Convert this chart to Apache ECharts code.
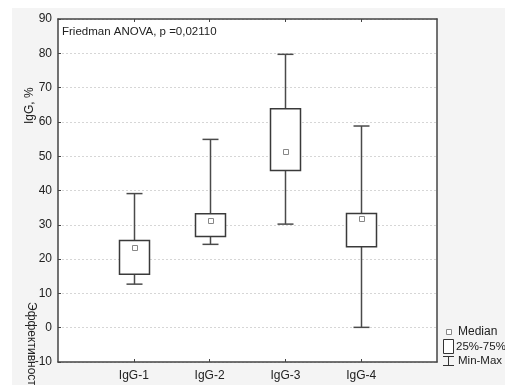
<!DOCTYPE html>
<html><head><meta charset="utf-8">
<script src="https://cdn.jsdelivr.net/npm/echarts@6/dist/echarts.min.js"></script>
<style>html,body{margin:0;padding:0;background:#fff}#c{width:505px;height:385px}</style>
</head><body><div id="c"></div>
<script>
var categories = ['IgG-1', 'IgG-2', 'IgG-3', 'IgG-4'];
var minVals = [12.7, 24.3, 30.2, 0.1];
var q1Vals = [15.6, 26.6, 45.8, 23.6];
var medianVals = [23.4, 31.2, 51.3, 31.9];
var q3Vals = [25.4, 33.2, 63.8, 33.3];
var maxVals = [39.1, 54.9, 79.7, 58.8];
var yTicks = [-10, 0, 10, 20, 30, 40, 50, 60, 70, 80, 90];

var axisCats = [''].concat(categories).concat(['']);
var boxData = categories.map(function (c, i) {
  return [i + 1, minVals[i], q1Vals[i], medianVals[i], q3Vals[i], maxVals[i]];
});
var font = 'Liberation Sans, Arial, sans-serif';

function renderBox(params, api) {
  var x = api.value(0);
  var pMin = api.coord([x, api.value(1)]);
  var pQ1 = api.coord([x, api.value(2)]);
  var pMed = api.coord([x, api.value(3)]);
  var pQ3 = api.coord([x, api.value(4)]);
  var pMax = api.coord([x, api.value(5)]);
  var cx = Math.round(pMin[0]) + 0.5;
  var bw = 30, cw = 16, ms = 5;
  var ls = {stroke: '#4a4a4a', lineWidth: 1.5, fill: null};
  return {
    type: 'group',
    children: [
      {type: 'line', shape: {x1: cx, y1: pMax[1], x2: cx, y2: pQ3[1]}, style: ls},
      {type: 'line', shape: {x1: cx, y1: pQ1[1], x2: cx, y2: pMin[1]}, style: ls},
      {type: 'line', shape: {x1: cx - cw / 2, y1: pMax[1], x2: cx + cw / 2, y2: pMax[1]}, style: ls},
      {type: 'line', shape: {x1: cx - cw / 2, y1: pMin[1], x2: cx + cw / 2, y2: pMin[1]}, style: ls},
      {type: 'rect', shape: {x: cx - bw / 2, y: pQ3[1], width: bw, height: pQ1[1] - pQ3[1]},
        style: {stroke: '#3a3a3a', lineWidth: 1.5, fill: '#fff'}},
      {type: 'rect', shape: {x: Math.round(cx - ms / 2) + 0.5, y: Math.round(pMed[1] - ms / 2) + 0.5, width: ms, height: ms},
        style: {stroke: '#888', lineWidth: 1, fill: '#fff'}}
    ]
  };
}

var chart = echarts.init(document.getElementById('c'), null, {renderer: 'canvas'});
chart.setOption({
  backgroundColor: 'transparent',
  animation: false,
  graphic: [
    {type: 'rect', z: -10, silent: true, shape: {x: 12, y: 8, width: 493, height: 377}, style: {fill: '#f4f4f4'}},
    {type: 'rect', z: -9, silent: true, shape: {x: 58, y: 19, width: 379, height: 343}, style: {fill: '#fff'}},
    {type: 'text', left: 62, top: 26, style: {text: 'Friedman ANOVA, p =0,02110', font: '11.5px ' + font, fill: '#222'}},
    {type: 'text', x: 24, y: 124, rotation: Math.PI / 2, style: {text: 'IgG, %', font: '12px ' + font, fill: '#222', textVerticalAlign: 'top'}},
    {type: 'text', x: 37, y: 302, rotation: -Math.PI / 2, style: {text: 'Эффективность', font: '12px ' + font, fill: '#222', textVerticalAlign: 'top'}},
    {type: 'rect', shape: {x: 446.5, y: 329.5, width: 5, height: 5}, style: {stroke: '#888', lineWidth: 1, fill: '#fff'}},
    {type: 'text', left: 458, top: 326, style: {text: 'Median', font: '12px ' + font, fill: '#222'}},
    {type: 'rect', shape: {x: 443.5, y: 339.5, width: 10, height: 14}, style: {stroke: '#333', lineWidth: 1, fill: '#fff'}},
    {type: 'text', left: 456, top: 341, style: {text: '25%-75%', font: '11.5px ' + font, fill: '#222'}},
    {type: 'line', shape: {x1: 448.5, y1: 356, x2: 448.5, y2: 366}, style: {stroke: '#333', lineWidth: 1}},
    {type: 'line', shape: {x1: 443, y1: 356.5, x2: 454, y2: 356.5}, style: {stroke: '#333', lineWidth: 1}},
    {type: 'line', shape: {x1: 443, y1: 365.5, x2: 454, y2: 365.5}, style: {stroke: '#333', lineWidth: 1}},
    {type: 'text', left: 458, top: 355, style: {text: 'Min-Max', font: '11.5px ' + font, fill: '#222'}}
  ],
  grid: {left: 58, right: 68, top: 19, bottom: 23, containLabel: false},
  xAxis: [{
    type: 'category', data: axisCats, boundaryGap: false, position: 'bottom',
    axisLine: {onZero: false, lineStyle: {color: '#444', width: 1.5}},
    axisTick: {inside: true, length: 3, lineStyle: {color: '#444'}, interval: function (i) { return i > 0 && i < axisCats.length - 1; }},
    axisLabel: {color: '#222', fontSize: 12, fontFamily: font, margin: 8, interval: 0},
    splitLine: {show: false}
  }, {
    type: 'category', data: axisCats, boundaryGap: false, position: 'top',
    axisLine: {onZero: false, lineStyle: {color: '#444', width: 1.5}},
    axisTick: {inside: true, length: 3, lineStyle: {color: '#444'}, interval: function (i) { return i > 0 && i < axisCats.length - 1; }},
    axisLabel: {show: false}, splitLine: {show: false}
  }],
  yAxis: [{
    type: 'value', min: yTicks[0], max: yTicks[yTicks.length - 1], interval: 10, position: 'left',
    axisLine: {show: true, onZero: false, lineStyle: {color: '#444', width: 1.5}},
    axisTick: {show: true, inside: true, length: 3, lineStyle: {color: '#444'}},
    axisLabel: {color: '#222', fontSize: 12, fontFamily: font, margin: 6},
    splitLine: {show: true, lineStyle: {color: '#d6d6d6', type: [2, 2], width: 1}}
  }, {
    type: 'value', min: yTicks[0], max: yTicks[yTicks.length - 1], interval: 10, position: 'right',
    axisLine: {show: true, onZero: false, lineStyle: {color: '#444', width: 1.5}},
    axisTick: {show: false}, axisLabel: {show: false}, splitLine: {show: false}
  }],
  series: [{
    type: 'custom', renderItem: renderBox, data: boxData, encode: {x: 0, y: [1, 2, 3, 4, 5]}, z: 5
  }]
});
</script></body></html>
